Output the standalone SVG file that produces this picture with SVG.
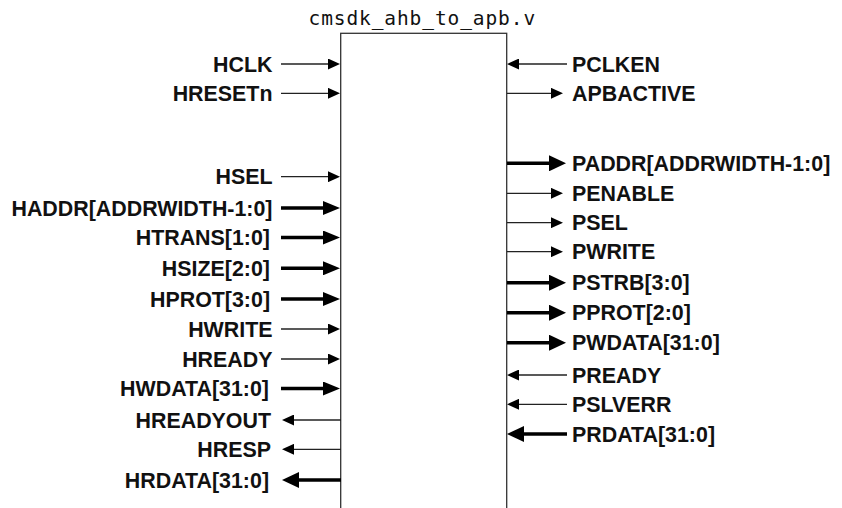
<svg xmlns="http://www.w3.org/2000/svg" width="842" height="508" viewBox="0 0 842 508">
<style>
.lbl{font-family:"Liberation Sans",Arial,sans-serif;font-weight:bold;font-size:21.4px;fill:#111}
.l{text-anchor:end}
.title{font-family:"DejaVu Sans Mono","Liberation Mono",monospace;font-size:19.5px;letter-spacing:0.9px;fill:#111}
.tn{fill:none;stroke:#222;stroke-width:1.3}
.tk{fill:none;stroke:#000;stroke-width:3.6}
.box{fill:#fff;stroke:#333;stroke-width:1.3}
</style>
<defs>
<marker id="mTn" markerUnits="userSpaceOnUse" viewBox="0 0 12 11" markerWidth="12" markerHeight="11" refX="1" refY="5.5" orient="auto"><path d="M0,0 L12,5.5 L0,11 Z" fill="#000"/></marker>
<marker id="mTkL" markerUnits="userSpaceOnUse" viewBox="0 0 17 14" markerWidth="17" markerHeight="14" refX="1" refY="7" orient="auto"><path d="M0,0 L17,7 L0,14 Z" fill="#000"/></marker>
<marker id="mTkR" markerUnits="userSpaceOnUse" viewBox="0 0 17 16" markerWidth="17" markerHeight="16" refX="1" refY="8" orient="auto"><path d="M0,0 L17,8 L0,16 Z" fill="#000"/></marker>
</defs>
<rect width="842" height="508" fill="#fff"/>
<g id="module">
<rect class="box" x="340.7" y="33.3" width="166" height="500"/>
<text class="title" x="308.5" y="25.3">cmsdk_ahb_to_apb.v</text>
</g>
<g id="connectors">
<path class="tn" d="M281,64 H329" marker-end="url(#mTn)"/>
<path class="tn" d="M281,93.3 H329" marker-end="url(#mTn)"/>
<path class="tn" d="M281,176.7 H329" marker-end="url(#mTn)"/>
<path class="tk" d="M281,208 H324" marker-end="url(#mTkL)"/>
<path class="tk" d="M281,237.5 H324" marker-end="url(#mTkL)"/>
<path class="tk" d="M281,268.3 H324" marker-end="url(#mTkL)"/>
<path class="tk" d="M281,299 H324" marker-end="url(#mTkL)"/>
<path class="tn" d="M281,329 H329" marker-end="url(#mTn)"/>
<path class="tn" d="M281,359 H329" marker-end="url(#mTn)"/>
<path class="tk" d="M281,388.5 H324" marker-end="url(#mTkL)"/>
<path class="tn" d="M341,420 H293" marker-end="url(#mTn)"/>
<path class="tn" d="M341,449.3 H293" marker-end="url(#mTn)"/>
<path class="tk" d="M341,480 H298" marker-end="url(#mTkR)"/>
<path class="tn" d="M567,64 H518" marker-end="url(#mTn)"/>
<path class="tn" d="M507,93.3 H552" marker-end="url(#mTn)"/>
<path class="tk" d="M507,163.3 H550" marker-end="url(#mTkR)"/>
<path class="tn" d="M507,193.3 H552" marker-end="url(#mTn)"/>
<path class="tn" d="M507,222.7 H552" marker-end="url(#mTn)"/>
<path class="tn" d="M507,251.7 H552" marker-end="url(#mTn)"/>
<path class="tk" d="M507,282.7 H550" marker-end="url(#mTkR)"/>
<path class="tk" d="M507,312.7 H550" marker-end="url(#mTkR)"/>
<path class="tk" d="M507,342.7 H550" marker-end="url(#mTkR)"/>
<path class="tn" d="M567,375 H518" marker-end="url(#mTn)"/>
<path class="tn" d="M567,404.3 H518" marker-end="url(#mTn)"/>
<path class="tk" d="M567,434 H523" marker-end="url(#mTkR)"/>
</g>
<g id="ahb-ports">
<text class="lbl l" x="272.5" y="71.5">HCLK</text>
<text class="lbl l" x="272.5" y="100.8">HRESETn</text>
<text class="lbl l" x="272.5" y="184.2">HSEL</text>
<text class="lbl l" x="272.5" y="215.5">HADDR[ADDRWIDTH-1:0]</text>
<text class="lbl l" x="270" y="245">HTRANS[1:0]</text>
<text class="lbl l" x="270" y="275.8">HSIZE[2:0]</text>
<text class="lbl l" x="270" y="306.5">HPROT[3:0]</text>
<text class="lbl l" x="272.5" y="336.5">HWRITE</text>
<text class="lbl l" x="272.5" y="366.5">HREADY</text>
<text class="lbl l" x="269" y="396">HWDATA[31:0]</text>
<text class="lbl l" x="271" y="427.5">HREADYOUT</text>
<text class="lbl l" x="271" y="456.8">HRESP</text>
<text class="lbl l" x="269" y="487.5">HRDATA[31:0]</text>
</g>
<g id="apb-ports">
<text class="lbl" x="572" y="71.5">PCLKEN</text>
<text class="lbl" x="572" y="100.8">APBACTIVE</text>
<text class="lbl" x="572" y="170.8">PADDR[ADDRWIDTH-1:0]</text>
<text class="lbl" x="572" y="200.8">PENABLE</text>
<text class="lbl" x="572" y="230.2">PSEL</text>
<text class="lbl" x="572" y="259.2">PWRITE</text>
<text class="lbl" x="572" y="290.2">PSTRB[3:0]</text>
<text class="lbl" x="572" y="320.2">PPROT[2:0]</text>
<text class="lbl" x="572" y="350.2">PWDATA[31:0]</text>
<text class="lbl" x="572" y="382.5">PREADY</text>
<text class="lbl" x="572" y="411.8">PSLVERR</text>
<text class="lbl" x="572" y="441.5">PRDATA[31:0]</text>
</g>
</svg>
